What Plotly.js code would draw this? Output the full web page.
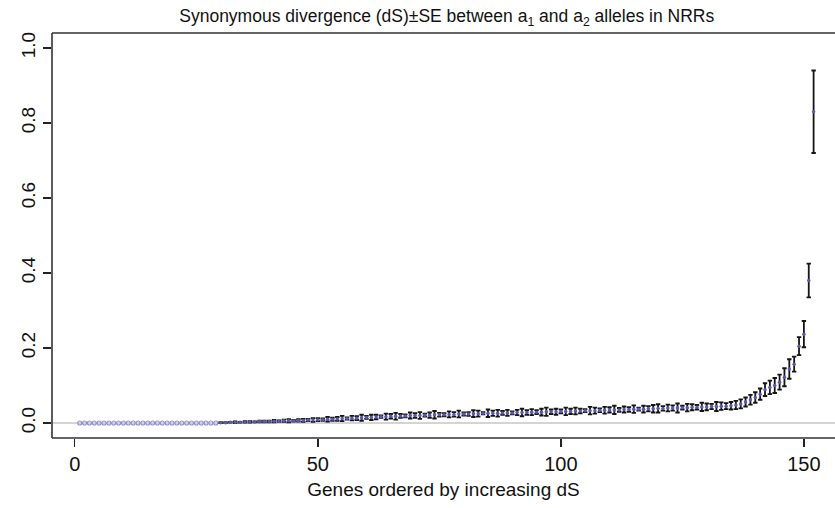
<!DOCTYPE html>
<html>
<head>
<meta charset="utf-8">
<script src="https://cdn.plot.ly/plotly-3.0.1.min.js"></script>
<style>
  html, body { margin: 0; padding: 0; background: #fff; }
  #chart { width: 835px; height: 508px; }
</style>
</head>
<body>
<div id="chart"></div>
<script>
// Synonymous divergence (dS) per gene, ordered by increasing dS (genes 1..152)
const dS = [
  0,0,0,0,0,0,0,0,0,0,
  0,0,0,0,0,0,0,0,0,0,
  0,0,0,0,0,0,0,0,0,
  0.001,0.001,0.002,0.002,0.002,0.003,0.003,0.003,0.004,0.004,
  0.004,0.005,0.005,0.006,0.006,0.006,0.007,0.007,0.008,0.008,
  0.009,0.009,0.010,0.010,0.011,0.012,0.012,0.013,0.013,0.014,
  0.015,0.015,0.016,0.017,0.017,0.018,0.018,0.019,0.019,0.020,
  0.020,0.020,0.021,0.021,0.022,0.022,0.022,0.023,0.023,0.024,
  0.024,0.024,0.025,0.025,0.026,0.026,0.026,0.026,0.027,0.027,
  0.027,0.028,0.028,0.028,0.029,0.029,0.029,0.030,0.030,0.030,
  0.031,0.031,0.031,0.032,0.032,0.033,0.033,0.033,0.034,0.034,
  0.035,0.035,0.035,0.036,0.036,0.037,0.037,0.037,0.038,0.038,
  0.039,0.039,0.040,0.040,0.040,0.041,0.041,0.042,0.042,0.043,
  0.043,0.044,0.044,0.045,0.045,0.046,0.048,0.051,0.056,0.062,
  0.068,0.077,0.089,0.095,0.100,0.109,0.122,0.144,0.157,0.205,
  0.237,0.380,0.830
];
// Standard error of dS per gene
const seDS = [
  0,0,0,0,0,0,0,0,0,0,
  0,0,0,0,0,0,0,0,0,0,
  0,0,0,0,0,0,0,0,0,
  0.001,0.001,0.001,0.002,0.001,0.002,0.002,0.001,0.002,0.002,
  0.002,0.003,0.002,0.003,0.004,0.002,0.003,0.004,0.003,0.005,
  0.004,0.003,0.006,0.004,0.005,0.007,0.003,0.006,0.005,0.008,
  0.004,0.007,0.006,0.003,0.008,0.006,0.009,0.005,0.004,0.008,
  0.006,0.009,0.004,0.007,0.010,0.005,0.004,0.008,0.006,0.009,
  0.004,0.005,0.009,0.008,0.003,0.010,0.007,0.009,0.005,0.008,
  0.004,0.007,0.010,0.006,0.008,0.005,0.009,0.011,0.006,0.008,
  0.005,0.010,0.007,0.009,0.006,0.004,0.010,0.008,0.005,0.009,
  0.007,0.011,0.005,0.008,0.006,0.010,0.004,0.009,0.007,0.010,
  0.011,0.006,0.009,0.007,0.012,0.005,0.010,0.008,0.006,0.011,
  0.009,0.007,0.012,0.010,0.008,0.010,0.011,0.012,0.012,0.013,
  0.014,0.015,0.017,0.018,0.020,0.020,0.024,0.026,0.020,0.024,
  0.035,0.045,0.110
];
const xTicks = [0, 50, 100, 150];
const yTicks = [0.0, 0.2, 0.4, 0.6, 0.8, 1.0];
const titleText = "Synonymous divergence (dS)±SE between a<sub>1</sub> and a<sub>2</sub> alleles in NRRs";
const xTitle = "Genes ordered by increasing dS";

const geneRank = dS.map((_, i) => i + 1);
const zeroIdx = [], posIdx = [];
dS.forEach((v, i) => (v === 0 ? zeroIdx : posIdx).push(i));

const traces = [
  {
    type: "scatter", mode: "markers",
    x: zeroIdx.map(i => geneRank[i]), y: zeroIdx.map(i => dS[i]),
    marker: { size: 4, color: "rgba(255,255,255,0)", line: { color: "#8f8fd0", width: 1.1 } },
    hoverinfo: "x+y"
  },
  {
    type: "scatter", mode: "markers",
    x: posIdx.map(i => geneRank[i]), y: posIdx.map(i => dS[i]),
    marker: { size: 3.5, color: "#5a5ab0" },
    error_y: { type: "data", array: posIdx.map(i => seDS[i]), visible: true,
               color: "#151515", thickness: 1.8, width: 2.2 },
    hoverinfo: "x+y"
  }
];

const font = "'Liberation Sans', Arial, Helvetica, sans-serif";
const layout = {
  width: 835, height: 508,
  margin: { l: 52, r: 0, t: 33, b: 70 },
  paper_bgcolor: "#ffffff", plot_bgcolor: "#ffffff",
  showlegend: false,
  font: { family: font, color: "#111111" },
  title: { text: titleText, font: { family: font, size: 17.5, color: "#111" },
           x: 0.535, xanchor: "center", y: 0.968, yanchor: "middle" },
  xaxis: {
    range: [-4.7, 156.4], tickvals: xTicks, ticktext: xTicks.map(String),
    showgrid: false, zeroline: false, showline: false,
    ticks: "outside", ticklen: 8, tickwidth: 1.3, tickcolor: "#222",
    tickfont: { size: 20, family: font, color: "#111" },
    title: { text: xTitle, font: { size: 19, family: font, color: "#111" }, standoff: 8 }
  },
  yaxis: {
    range: [-0.04, 1.04], tickvals: yTicks, ticktext: yTicks.map(v => v.toFixed(1)),
    tickangle: -90,
    showgrid: false, zeroline: false, showline: false,
    ticks: "outside", ticklen: 8, tickwidth: 1.3, tickcolor: "#222",
    tickfont: { size: 19, family: font, color: "#111" }
  },
  shapes: [
    { type: "line", xref: "paper", yref: "y", x0: 0, x1: 1, y0: 0, y1: 0,
      line: { color: "#aaaaaa", width: 1 }, layer: "below" },
    { type: "line", xref: "paper", yref: "paper", x0: 0, x1: 1, y0: 1, y1: 1,
      line: { color: "#333", width: 1.6 } },
    { type: "line", xref: "paper", yref: "paper", x0: 0, x1: 1, y0: 0, y1: 0,
      line: { color: "#333", width: 1.6 } },
    { type: "line", xref: "paper", yref: "paper", x0: 0, x1: 0, y0: 0, y1: 1,
      line: { color: "#333", width: 1.6 } }
  ]
};

Plotly.newPlot("chart", traces, layout, { displayModeBar: false, staticPlot: true });
</script>
</body>
</html>
